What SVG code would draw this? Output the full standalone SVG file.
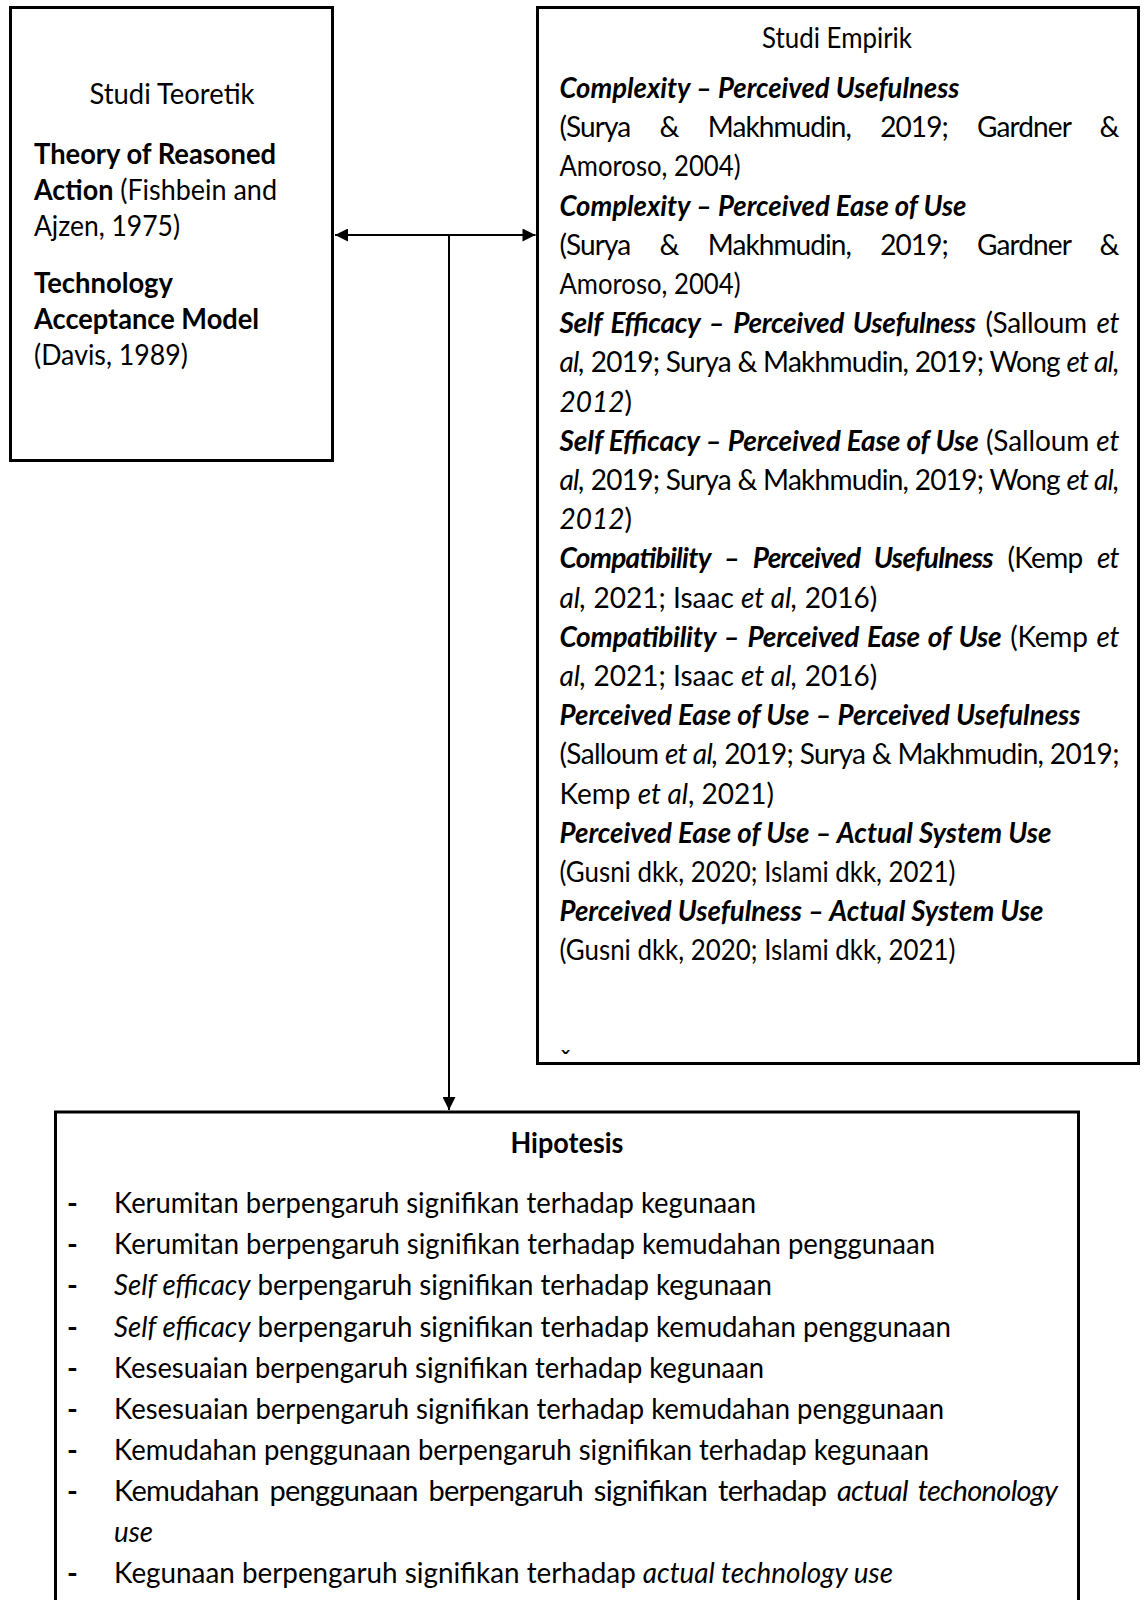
<svg xmlns="http://www.w3.org/2000/svg" width="1144" height="1600" viewBox="0 0 1144 1600">
<style>
.t{font-family:Lato,'Liberation Sans',sans-serif;font-size:28px;fill:#000}
.h{font-size:29px}
.b{font-weight:700}
.i{font-style:italic}
.bi{font-weight:700;font-style:italic}
.box{fill:#fff;stroke:#000;stroke-width:3}
.conn{stroke:#000;stroke-width:2;fill:none}
</style>
<defs>
<marker id="ah" viewBox="0 0 10 10" refX="10" refY="5" markerWidth="16" markerHeight="13" markerUnits="userSpaceOnUse" orient="auto-start-reverse">
<path d="M0,0 L10,5 L0,10 z" fill="#000"/>
</marker>
</defs>
<rect width="1144" height="1600" fill="#fff"/>

<g id="studi-teoretik">
<rect class="box" x="10.5" y="7.5" width="322" height="453"/>
<text class="t h" x="172" y="104" text-anchor="middle" textLength="165" lengthAdjust="spacingAndGlyphs">Studi Teoretik</text>
<text class="t h b" x="34" y="164" textLength="242" lengthAdjust="spacingAndGlyphs">Theory of Reasoned</text>
<text class="t h" x="34" y="200" textLength="243" lengthAdjust="spacingAndGlyphs"><tspan class="b">Action</tspan> (Fishbein and</text>
<text class="t h" x="34" y="236" textLength="146" lengthAdjust="spacingAndGlyphs">Ajzen, 1975)</text>
<text class="t h b" x="34" y="293" textLength="139" lengthAdjust="spacingAndGlyphs">Technology</text>
<text class="t h b" x="34" y="329" textLength="225" lengthAdjust="spacingAndGlyphs">Acceptance Model</text>
<text class="t h" x="34" y="365" textLength="154" lengthAdjust="spacingAndGlyphs">(Davis, 1989)</text>
</g>

<g id="studi-empirik">
<rect class="box" x="537.5" y="7.5" width="601" height="1056"/>
<text class="t" x="837" y="48" text-anchor="middle" textLength="150" lengthAdjust="spacingAndGlyphs">Studi Empirik</text>
<text class="t bi" x="559.5" y="98" textLength="400" lengthAdjust="spacingAndGlyphs">Complexity – Perceived Usefulness</text>
<text class="t" x="559.5" y="137.2" word-spacing="23" textLength="560" lengthAdjust="spacing">(Surya &amp; Makhmudin, 2019; Gardner &amp;</text>
<text class="t" x="559.5" y="176.4" textLength="181" lengthAdjust="spacingAndGlyphs">Amoroso, 2004)</text>
<text class="t bi" x="559.5" y="215.6" textLength="407" lengthAdjust="spacingAndGlyphs">Complexity – Perceived Ease of Use</text>
<text class="t" x="559.5" y="254.8" word-spacing="23" textLength="560" lengthAdjust="spacing">(Surya &amp; Makhmudin, 2019; Gardner &amp;</text>
<text class="t" x="559.5" y="294" textLength="181" lengthAdjust="spacingAndGlyphs">Amoroso, 2004)</text>
<text class="t" x="559.5" y="333.2" word-spacing="3" textLength="560" lengthAdjust="spacing"><tspan class="bi">Self Efficacy – Perceived Usefulness</tspan> (Salloum <tspan class="i">et</tspan></text>
<text class="t" x="559.5" y="372.4" textLength="560" lengthAdjust="spacing"><tspan class="i">al,</tspan> 2019; Surya &amp; Makhmudin, 2019; Wong <tspan class="i">et al,</tspan></text>
<text class="t" x="559.5" y="411.6"><tspan class="i">2012</tspan>)</text>
<text class="t" x="559.5" y="450.8" textLength="560" lengthAdjust="spacing"><tspan class="bi">Self Efficacy – Perceived Ease of Use</tspan> (Salloum <tspan class="i">et</tspan></text>
<text class="t" x="559.5" y="490" textLength="560" lengthAdjust="spacing"><tspan class="i">al,</tspan> 2019; Surya &amp; Makhmudin, 2019; Wong <tspan class="i">et al,</tspan></text>
<text class="t" x="559.5" y="529.2"><tspan class="i">2012</tspan>)</text>
<text class="t" x="559.5" y="568.4" word-spacing="8" textLength="560" lengthAdjust="spacing"><tspan class="bi">Compatibility – Perceived Usefulness</tspan> (Kemp <tspan class="i">et</tspan></text>
<text class="t" x="559.5" y="607.6"><tspan class="i">al,</tspan> 2021; Isaac <tspan class="i">et al,</tspan> 2016)</text>
<text class="t" x="559.5" y="646.8" word-spacing="2" textLength="560" lengthAdjust="spacing"><tspan class="bi">Compatibility – Perceived Ease of Use</tspan> (Kemp <tspan class="i">et</tspan></text>
<text class="t" x="559.5" y="686"><tspan class="i">al,</tspan> 2021; Isaac <tspan class="i">et al,</tspan> 2016)</text>
<text class="t bi" x="559.5" y="725.2" textLength="521" lengthAdjust="spacingAndGlyphs">Perceived Ease of Use – Perceived Usefulness</text>
<text class="t" x="559.5" y="764.4" textLength="560" lengthAdjust="spacing">(Salloum <tspan class="i">et al,</tspan> 2019; Surya &amp; Makhmudin, 2019;</text>
<text class="t" x="559.5" y="803.6">Kemp <tspan class="i">et al</tspan>, 2021)</text>
<text class="t bi" x="559.5" y="842.8" textLength="492" lengthAdjust="spacingAndGlyphs">Perceived Ease of Use – Actual System Use</text>
<text class="t" x="559.5" y="882" textLength="396" lengthAdjust="spacingAndGlyphs">(Gusni dkk, 2020; Islami dkk, 2021)</text>
<text class="t bi" x="559.5" y="921.2" textLength="484" lengthAdjust="spacingAndGlyphs">Perceived Usefulness – Actual System Use</text>
<text class="t" x="559.5" y="960.4" textLength="396" lengthAdjust="spacingAndGlyphs">(Gusni dkk, 2020; Islami dkk, 2021)</text>
<text class="t" x="560" y="1071">ˇ</text>
</g>

<g id="hipotesis">
<rect class="box" x="55.5" y="1112" width="1023" height="520"/>
<text class="t h b" x="567" y="1153" text-anchor="middle" textLength="113" lengthAdjust="spacingAndGlyphs">Hipotesis</text>
<g class="t h b">
<text x="67" y="1213">-</text>
<text x="67" y="1254.2">-</text>
<text x="67" y="1295.3">-</text>
<text x="67" y="1336.5">-</text>
<text x="67" y="1377.6">-</text>
<text x="67" y="1418.8">-</text>
<text x="67" y="1460">-</text>
<text x="67" y="1501.1">-</text>
<text x="67" y="1583.4">-</text>
</g>
<text class="t h" x="114" y="1213" textLength="642" lengthAdjust="spacingAndGlyphs">Kerumitan berpengaruh signifikan terhadap kegunaan</text>
<text class="t h" x="114" y="1254.2" textLength="821" lengthAdjust="spacingAndGlyphs">Kerumitan berpengaruh signifikan terhadap kemudahan penggunaan</text>
<text class="t h" x="114" y="1295.3" textLength="658" lengthAdjust="spacingAndGlyphs"><tspan class="i">Self efficacy</tspan> berpengaruh signifikan terhadap kegunaan</text>
<text class="t h" x="114" y="1336.5" textLength="837" lengthAdjust="spacingAndGlyphs"><tspan class="i">Self efficacy</tspan> berpengaruh signifikan terhadap kemudahan penggunaan</text>
<text class="t h" x="114" y="1377.6" textLength="650" lengthAdjust="spacingAndGlyphs">Kesesuaian berpengaruh signifikan terhadap kegunaan</text>
<text class="t h" x="114" y="1418.8" textLength="830" lengthAdjust="spacingAndGlyphs">Kesesuaian berpengaruh signifikan terhadap kemudahan penggunaan</text>
<text class="t h" x="114" y="1460" textLength="815" lengthAdjust="spacingAndGlyphs">Kemudahan penggunaan berpengaruh signifikan terhadap kegunaan</text>
<text class="t h" x="114" y="1501.1" word-spacing="4" textLength="944" lengthAdjust="spacing">Kemudahan penggunaan berpengaruh signifikan terhadap <tspan class="i">actual techonology</tspan></text>
<text class="t h i" x="114" y="1542.3" textLength="39" lengthAdjust="spacingAndGlyphs">use</text>
<text class="t h" x="114" y="1583.4" textLength="779" lengthAdjust="spacingAndGlyphs">Kegunaan berpengaruh signifikan terhadap <tspan class="i">actual technology use</tspan></text>
</g>

<g id="connectors">
<line class="conn" x1="335" y1="235" x2="535.5" y2="235" marker-start="url(#ah)" marker-end="url(#ah)"/>
<line class="conn" x1="449" y1="235" x2="449" y2="1110" marker-end="url(#ah)"/>
</g>
</svg>
